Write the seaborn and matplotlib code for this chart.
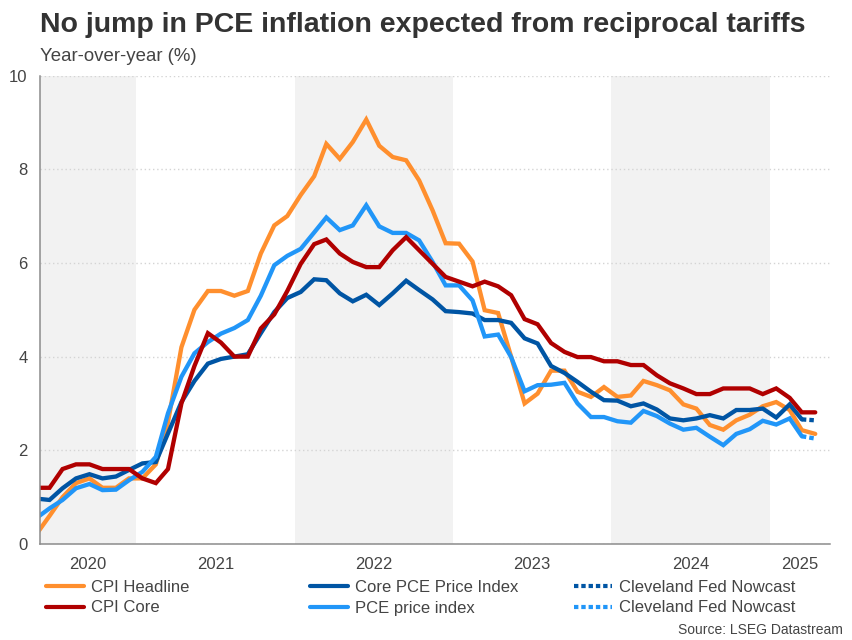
import numpy as np
import pandas as pd
import matplotlib
matplotlib.use("Agg")
import matplotlib.pyplot as plt
import matplotlib.dates as mdates
from matplotlib.lines import Line2D
import seaborn as sns

# ---------------- data (monthly, May 2020 - Apr 2025) ----------------
start_month = "2020-05-01"
cpi_headline = [0.2, 0.6, 1.0, 1.3, 1.4, 1.2, 1.2, 1.4,
                1.4, 1.7, 2.6, 4.2, 5.0, 5.4, 5.4, 5.3, 5.4, 6.2, 6.8, 7.0,
                7.45, 7.85, 8.54, 8.22, 8.58, 9.06, 8.5, 8.26, 8.19, 7.76, 7.12, 6.42,
                6.41, 6.03, 4.99, 4.93, 4.0, 3.0, 3.21, 3.7, 3.7, 3.25, 3.14, 3.35,
                3.14, 3.17, 3.48, 3.39, 3.28, 2.98, 2.89, 2.54, 2.44, 2.64, 2.76, 2.94,
                3.03, 2.86, 2.43, 2.35]
cpi_core = [1.2, 1.2, 1.6, 1.7, 1.7, 1.6, 1.6, 1.6,
            1.4, 1.3, 1.6, 3.0, 3.8, 4.5, 4.3, 4.0, 4.0, 4.6, 4.9, 5.4,
            5.98, 6.4, 6.5, 6.2, 6.02, 5.91, 5.91, 6.27, 6.55, 6.27, 5.98, 5.7,
            5.6, 5.5, 5.6, 5.5, 5.31, 4.8, 4.69, 4.29, 4.1, 3.99, 3.99, 3.9,
            3.9, 3.82, 3.82, 3.6, 3.43, 3.32, 3.2, 3.2, 3.32, 3.32, 3.32, 3.2,
            3.32, 3.12, 2.81, 2.81]
core_pce = [0.97, 0.94, 1.19, 1.4, 1.49, 1.4, 1.44, 1.58,
            1.72, 1.75, 2.36, 3.03, 3.48, 3.85, 3.95, 4.0, 4.05, 4.5, 4.95, 5.25,
            5.38, 5.65, 5.63, 5.35, 5.18, 5.32, 5.1, 5.35, 5.62, 5.42, 5.22, 4.97,
            4.95, 4.92, 4.78, 4.78, 4.72, 4.39, 4.28, 3.8, 3.65, 3.46, 3.25, 3.07,
            3.06, 2.94, 3.0, 2.87, 2.68, 2.64, 2.68, 2.75, 2.68, 2.86, 2.86, 2.89,
            2.7, 2.98, 2.66]
pce = [0.55, 0.76, 0.94, 1.19, 1.28, 1.15, 1.16, 1.36,
       1.54, 1.86, 2.79, 3.57, 4.07, 4.31, 4.49, 4.61, 4.78, 5.3, 5.95, 6.15,
       6.3, 6.65, 6.97, 6.7, 6.8, 7.23, 6.78, 6.64, 6.64, 6.48, 6.02, 5.52,
       5.52, 5.2, 4.43, 4.47, 3.99, 3.26, 3.39, 3.4, 3.44, 3.0, 2.71, 2.71,
       2.62, 2.59, 2.84, 2.73, 2.57, 2.44, 2.48, 2.29, 2.11, 2.35, 2.45, 2.63,
       2.55, 2.68, 2.3]
nowcast_dates = ["2025-03-15", "2025-04-15"]
nowcast_core_pce = [2.66, 2.64]
nowcast_pce = [2.30, 2.25]

labels = ["CPI Headline", "CPI Core", "Core PCE Price Index", "PCE price index",
          "Cleveland Fed Nowcast", "Cleveland Fed Nowcast"]
colors = ["#FF8F2E", "#B00000", "#0055A4", "#2196F8", "#0055A4", "#2196F8"]
year_labels = ["2020", "2021", "2022", "2023", "2024", "2025"]

# ---------------- build frames ----------------
def month_dates(n):
    return pd.date_range(start_month, periods=n, freq="MS") + pd.Timedelta(days=14)

frames = []
for name, vals in [(labels[0], cpi_headline), (labels[2], core_pce),
                   (labels[3], pce), (labels[1], cpi_core)]:
    frames.append(pd.DataFrame({"date": month_dates(len(vals)), "value": vals, "series": name}))
df = pd.concat(frames, ignore_index=True)
now_core = pd.DataFrame({"date": pd.to_datetime(nowcast_dates), "value": nowcast_core_pce})
now_pce = pd.DataFrame({"date": pd.to_datetime(nowcast_dates), "value": nowcast_pce})

# ---------------- style ----------------
sns.set_style("white")
plt.rcParams["font.family"] = ["Liberation Sans", "DejaVu Sans"]

W, H = 853, 640
fig = plt.figure(figsize=(W / 100, H / 100), dpi=100)
ax = fig.add_axes([40 / W, 1 - 544 / H, (830 - 40) / W, (544 - 75.5) / H])

xmin = pd.Timestamp("2020-05-24")
xmax = pd.Timestamp("2025-05-19")

# shaded alternate years
for a, b in [(xmin, pd.Timestamp("2021-01-01")),
             (pd.Timestamp("2022-01-01"), pd.Timestamp("2023-01-01")),
             (pd.Timestamp("2024-01-01"), pd.Timestamp("2025-01-01"))]:
    ax.axvspan(a, b, color="#F2F2F2", zorder=0, lw=0)

palette = {labels[0]: colors[0], labels[1]: colors[1], labels[2]: colors[2], labels[3]: colors[3]}
sns.lineplot(data=df, x="date", y="value", hue="series", palette=palette,
             hue_order=[labels[0], labels[2], labels[3], labels[1]],
             linewidth=3.1, legend=False, estimator=None, sort=False, ax=ax,
             solid_joinstyle="miter")
dotted = (0, (1.05, 0.7))
sns.lineplot(data=now_core, x="date", y="value", color=colors[4], linewidth=3.1,
             linestyle=dotted, legend=False, estimator=None, ax=ax)
sns.lineplot(data=now_pce, x="date", y="value", color=colors[5], linewidth=3.1,
             linestyle=dotted, legend=False, estimator=None, ax=ax)

ax.set_xlim(xmin, xmax)
ax.set_ylim(0, 10)
ax.set_xlabel("")
ax.set_ylabel("")

# y axis
ax.set_yticks(np.arange(0, 11, 2))
ax.set_yticklabels([str(v) for v in range(0, 11, 2)])
ax.yaxis.grid(True, linestyle=(0, (1, 2)), color="#D4D4D4", linewidth=1)
ax.set_axisbelow(True)
ax.tick_params(axis="y", length=3, width=1, color="#8C8C8C", pad=6,
               labelsize=12, labelcolor="#444444")

# x axis: year boundaries as major ticks, labels at mid-range
bounds = [pd.Timestamp(f"{y}-01-01") for y in range(2021, 2026)]
ax.set_xticks(bounds)
ax.set_xticklabels([""] * len(bounds))
ax.tick_params(axis="x", which="major", length=4, width=1.1, color="#8C8C8C")
edges = [xmin] + bounds + [xmax]
mids = [edges[i] + (edges[i + 1] - edges[i]) / 2 for i in range(len(edges) - 1)]
ax.set_xticks(mids, minor=True)
ax.set_xticklabels(year_labels, minor=True)
ax.tick_params(axis="x", which="minor", length=0, pad=9.5, labelsize=12, labelcolor="#444444")

for s in ["top", "right"]:
    ax.spines[s].set_visible(False)
for s in ["left", "bottom"]:
    ax.spines[s].set_color("#8C8C8C")
    ax.spines[s].set_linewidth(1.1)

# ---------------- texts ----------------
fig.text(40 / W, 1 - 32 / H, "No jump in PCE inflation expected from reciprocal tariffs",
         fontsize=20.5, fontweight="bold", color="#333333", va="baseline", ha="left")
fig.text(40 / W, 1 - 61 / H, "Year-over-year (%)", fontsize=13.4, color="#444444",
         va="baseline", ha="left")
fig.text(843 / W, 1 - 630 / H, "Source: LSEG Datastream", fontsize=10, color="#444444",
         va="center", ha="right")

# ---------------- legend (three columns) ----------------
handles = [Line2D([], [], color=colors[0], lw=3),
           Line2D([], [], color=colors[1], lw=3),
           Line2D([], [], color=colors[2], lw=3),
           Line2D([], [], color=colors[3], lw=3),
           Line2D([], [], color=colors[4], lw=3, linestyle=dotted),
           Line2D([], [], color=colors[5], lw=3, linestyle=dotted)]
col_x = [46, 310, 574]
for i, cx in enumerate(col_x):
    leg = fig.legend(handles[2 * i:2 * i + 2], labels[2 * i:2 * i + 2],
                     loc="upper left", bbox_to_anchor=(cx / W, 1 - 580 / H),
                     frameon=False, fontsize=12, handlelength=2.3, handletextpad=0.4,
                     labelspacing=0.33, borderpad=0, borderaxespad=0)
    for t in leg.get_texts():
        t.set_color("#444444")

fig.savefig("out.png", dpi=100)
